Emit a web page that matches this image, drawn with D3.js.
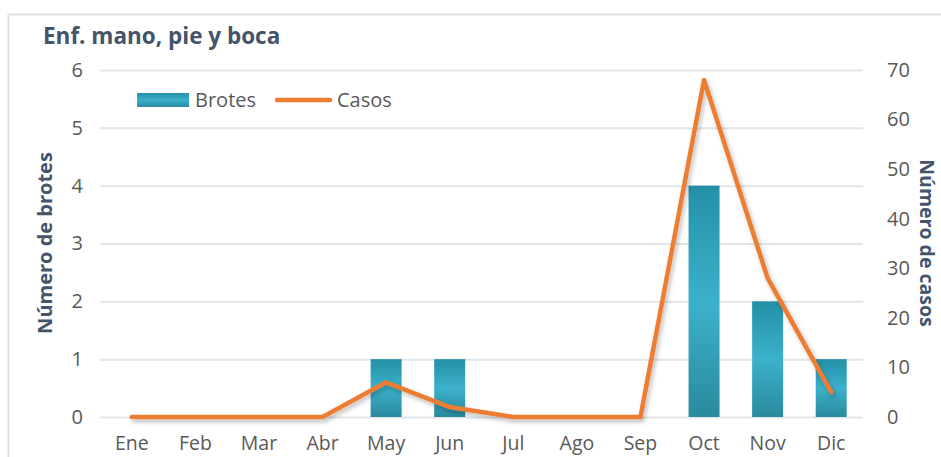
<!DOCTYPE html>
<html><head><meta charset="utf-8">
<script src="https://cdn.jsdelivr.net/npm/d3@7"></script>
<style>body{margin:0;background:#fff;}svg{display:block;font-family:"Open Sans",Lato,sans-serif;}</style>
</head><body>
<script>
const months = ["Ene","Feb","Mar","Abr","May","Jun","Jul","Ago","Sep","Oct","Nov","Dic"];
const brotes = [0,0,0,0,1,1,0,0,0,4,2,1];
const casos = [0,0,0,0,7,2,0,0,0,68,28,5];
const leftTicks = [0,1,2,3,4,5,6];
const rightTicks = [0,10,20,30,40,50,60,70];
const title = "Enf. mano, pie y boca";

const W = 941, H = 457;
const FONT = "Open Sans";
const m = {l:100, r:863, t:70, b:417};
const svg = d3.select("body").append("svg").attr("width", W).attr("height", H);
const defs = svg.append("defs");
const g = defs.append("linearGradient").attr("id","barg").attr("x1",0).attr("y1",0).attr("x2",0).attr("y2",1);
g.append("stop").attr("offset","0%").attr("stop-color","#2390A6");
g.append("stop").attr("offset","50%").attr("stop-color","#3CB1CB");
g.append("stop").attr("offset","100%").attr("stop-color","#2A8A9E");
const f = defs.append("filter").attr("id","sh").attr("x","-10%").attr("y","-10%").attr("width","130%").attr("height","130%");
f.append("feDropShadow").attr("dx",2).attr("dy",3).attr("stdDeviation",2).attr("flood-color","#000").attr("flood-opacity",0.25);

// chart border
svg.append("path").attr("d",`M8.5,${H} V14.5 H${W}`).attr("fill","none").attr("stroke","#DDE1E8").attr("stroke-width",2);

const x = d3.scaleBand().domain(months).range([m.l, m.r]).paddingInner(0.5).paddingOuter(0.25);
const y = d3.scaleLinear().domain([0,6]).range([m.b, m.t]);
const y2 = d3.scaleLinear().domain([0,70]).range([m.b, m.t]);

// gridlines
svg.append("g").selectAll("line").data(leftTicks).join("line")
  .attr("x1", m.l).attr("x2", m.r).attr("y1", d=>y(d)+0.5).attr("y2", d=>y(d)+0.5)
  .attr("stroke","#E2E5EB").attr("stroke-width",2);

// left axis labels
const yAx = svg.append("g").attr("transform",`translate(${m.l-17},0)`)
  .call(d3.axisLeft(y).tickValues(leftTicks).tickSize(0).tickPadding(0).tickFormat(d3.format("d")));
yAx.select(".domain").remove();
yAx.selectAll("text").attr("font-size",20).attr("fill","#595959").attr("font-family",FONT);

const y2Ax = svg.append("g").attr("transform",`translate(${m.r+24},0)`)
  .call(d3.axisRight(y2).tickValues(rightTicks).tickSize(0).tickPadding(0).tickFormat(d3.format("d")));
y2Ax.select(".domain").remove();
y2Ax.selectAll("text").attr("font-size",20).attr("fill","#595959").attr("font-family",FONT);

const xAx = svg.append("g").attr("transform",`translate(0,450)`)
  .call(d3.axisBottom(x).tickSize(0).tickPadding(0));
xAx.select(".domain").remove();
xAx.selectAll("text").attr("font-size",19.5).attr("fill","#595959").attr("font-family",FONT).attr("dy","0");

// bars
const bw = 31;
svg.append("g").selectAll("rect").data(months).join("rect")
  .attr("x", d=>x(d)+x.bandwidth()/2-bw/2).attr("width", bw)
  .attr("y", (d,i)=>y(brotes[i])).attr("height", (d,i)=>y(0)-y(brotes[i]))
  .attr("fill","url(#barg)");

// line
const line = d3.line().x((d,i)=>x(months[i])+x.bandwidth()/2).y(d=>y2(d));
svg.append("path").datum(casos).attr("d", line).attr("fill","none")
  .attr("stroke","#ED7D31").attr("stroke-width",4.5).attr("stroke-linejoin","round").attr("stroke-linecap","round")
  .attr("filter","url(#sh)");

// title
svg.append("text").attr("x",43).attr("y",44).attr("font-size",22.5).attr("font-weight","bold")
  .attr("fill","#44546A").attr("font-family",FONT).text(title);

// axis titles
svg.append("text").attr("transform","translate(52,243) rotate(-90)").attr("text-anchor","middle")
  .attr("font-size",20).attr("font-weight","bold").attr("fill","#44546A").attr("font-family",FONT).text("Número de brotes");
svg.append("text").attr("transform","translate(920,243) rotate(90)").attr("text-anchor","middle")
  .attr("font-size",19.5).attr("font-weight","bold").attr("fill","#44546A").attr("font-family",FONT).text("Número de casos");

// legend
const lg = svg.append("g");
lg.append("rect").attr("x",137).attr("y",93).attr("width",52).attr("height",14).attr("fill","url(#barg)");
lg.append("text").attr("x",195).attr("y",107).attr("font-size",20).attr("fill","#595959").attr("font-family",FONT).text("Brotes");
lg.append("line").attr("x1",277).attr("x2",330).attr("y1",100).attr("y2",100).attr("stroke","#ED7D31").attr("stroke-width",4.5).attr("stroke-linecap","round");
lg.append("text").attr("x",337).attr("y",107).attr("font-size",20).attr("fill","#595959").attr("font-family",FONT).text("Casos");
</script>
</body></html>
